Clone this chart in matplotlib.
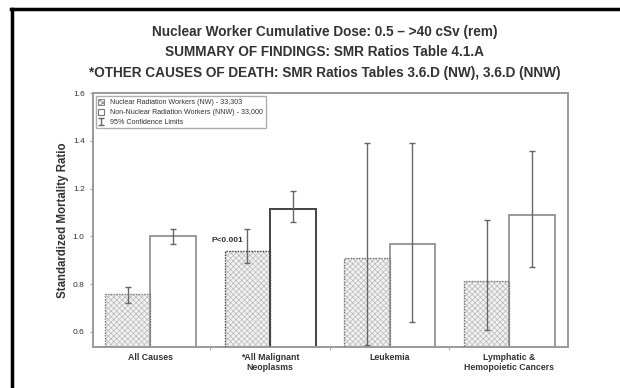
import numpy as np
import matplotlib
matplotlib.use("Agg")
import matplotlib.pyplot as plt
from matplotlib.lines import Line2D
from matplotlib.patches import Patch

plt.rcParams['font.family'] = ['Liberation Sans', 'DejaVu Sans']
plt.rcParams['hatch.linewidth'] = 0.5

# data
categories = ['All Causes', '*All Malignant\nNeoplasms', 'Leukemia',
              'Lymphatic &\nHemopoietic Cancers']
nw_smr = [0.76, 0.94, 0.91, 0.815]
nw_lo = [0.72, 0.89, 0.545, 0.61]
nw_hi = [0.79, 1.03, 1.39, 1.07]
nnw_smr = [1.00, 1.115, 0.97, 1.09]
nnw_lo = [0.97, 1.06, 0.64, 0.87]
nnw_hi = [1.03, 1.19, 1.39, 1.36]
legend_labels = ['Nuclear Radiation Workers (NW) - 33,303',
                 'Non-Nuclear Radiation Workers (NNW) - 33,000',
                 '95% Confidence Limits']
titles = ['Nuclear Worker Cumulative Dose: 0.5 \u2013 >40 cSv (rem)',
          'SUMMARY OF FINDINGS: SMR Ratios Table 4.1.A',
          '*OTHER CAUSES OF DEATH: SMR Ratios Tables 3.6.D (NW), 3.6.D (NNW)']

fig = plt.figure(figsize=(6.2, 3.88), dpi=100)
ax = fig.add_axes([0.150, 0.1057, 0.766, 0.654])

x = np.arange(len(categories))
w = 0.38
x_nw = x - w / 2
x_nnw = x + w / 2

# hatched NW bars, then dotted outline on top
ax.bar(x_nw, nw_smr, w, color='#f2f2f2', hatch='xxxxxx', edgecolor='#b8b8b8',
       linewidth=0, zorder=2)
nw_edges = ['#777777', '#444444', '#777777', '#777777']
for xi, v, ec in zip(x_nw, nw_smr, nw_edges):
    ax.bar(xi, v, w, fill=False, edgecolor=ec, linewidth=1.0,
           linestyle=(0, (1, 1)), zorder=3)

nnw_edges = ['#9a9a9a', '#444444', '#9a9a9a', '#9a9a9a']
for xi, v, ec in zip(x_nnw, nnw_smr, nnw_edges):
    ax.bar(xi, v, w, color='white', edgecolor=ec, linewidth=1.4, zorder=2)

err_nw = [np.subtract(nw_smr, nw_lo), np.subtract(nw_hi, nw_smr)]
err_nnw = [np.subtract(nnw_smr, nnw_lo), np.subtract(nnw_hi, nnw_smr)]
ax.errorbar(x_nw, nw_smr, yerr=err_nw, fmt='none', ecolor='#666666',
            elinewidth=1.0, capsize=2.5, capthick=1.0, zorder=4)
eb = ax.errorbar(x_nnw, nnw_smr, yerr=err_nnw, fmt='none', ecolor='#666666',
                 elinewidth=1.0, capsize=2.5, capthick=1.0, zorder=4)

ax.text(x_nw[1] - 0.03, 0.985, 'P<0.001', ha='right', va='center',
        fontsize=6, fontweight='bold', color='#333333', zorder=5)

ax.set_xlim(-0.48, 3.49)
ax.set_ylim(0.537, 1.6)
ax.set_yticks([0.6, 0.8, 1.0, 1.2, 1.4, 1.6])
ax.set_yticklabels(['0.6', '0.8', '1.0', '1.2', '1.4', '1.6'])
ax.set_xticks(x)
ax.set_xticklabels(categories, fontsize=6.3, fontweight='bold', color='#333333',
                   linespacing=1.25)
ax.set_xticks([0.5, 1.5, 2.5], minor=True)
ax.tick_params(axis='x', which='major', length=0, pad=4)
ax.tick_params(axis='x', which='minor', length=2, color='#999999')
ax.tick_params(axis='y', length=2, color='#999999', labelsize=6,
               labelcolor='#333333', pad=4)
for s in ax.spines.values():
    s.set_color('#9a9a9a')
    s.set_linewidth(1.4)
ax.set_ylabel('Standardized Mortality Ratio', fontsize=8.3, fontweight='bold',
              color='#333333', labelpad=3)

handles = [Patch(facecolor='#f2f2f2', edgecolor='#777777', hatch='xxxxxx',
                 linewidth=0.6),
           Patch(facecolor='white', edgecolor='#777777', linewidth=0.8),
           eb]
leg = ax.legend(handles, legend_labels, loc='upper left',
                bbox_to_anchor=(0.006, 0.988), fontsize=5.1, frameon=True,
                fancybox=False, edgecolor='#9a9a9a', handlelength=0.8,
                handleheight=0.9, handletextpad=0.9, labelspacing=0.35,
                borderpad=0.35, borderaxespad=0)
leg.get_frame().set_linewidth(1.0)
for t in leg.get_texts():
    t.set_color('#333333')

title_y = [0.918, 0.866, 0.813]
for ty, tt in zip(title_y, titles):
    fig.text(0.524, ty, tt, ha='center', va='center', fontsize=9.8,
             fontweight='bold', color='#333333')

# black page border (left and top)
fig.add_artist(Line2D([0.019, 0.019], [0.0, 0.978], color='black',
                      linewidth=2.5, transform=fig.transFigure))
fig.add_artist(Line2D([0.017, 1.0], [0.976, 0.976], color='black',
                      linewidth=2.5, transform=fig.transFigure))

fig.savefig('out.png', dpi=100)
